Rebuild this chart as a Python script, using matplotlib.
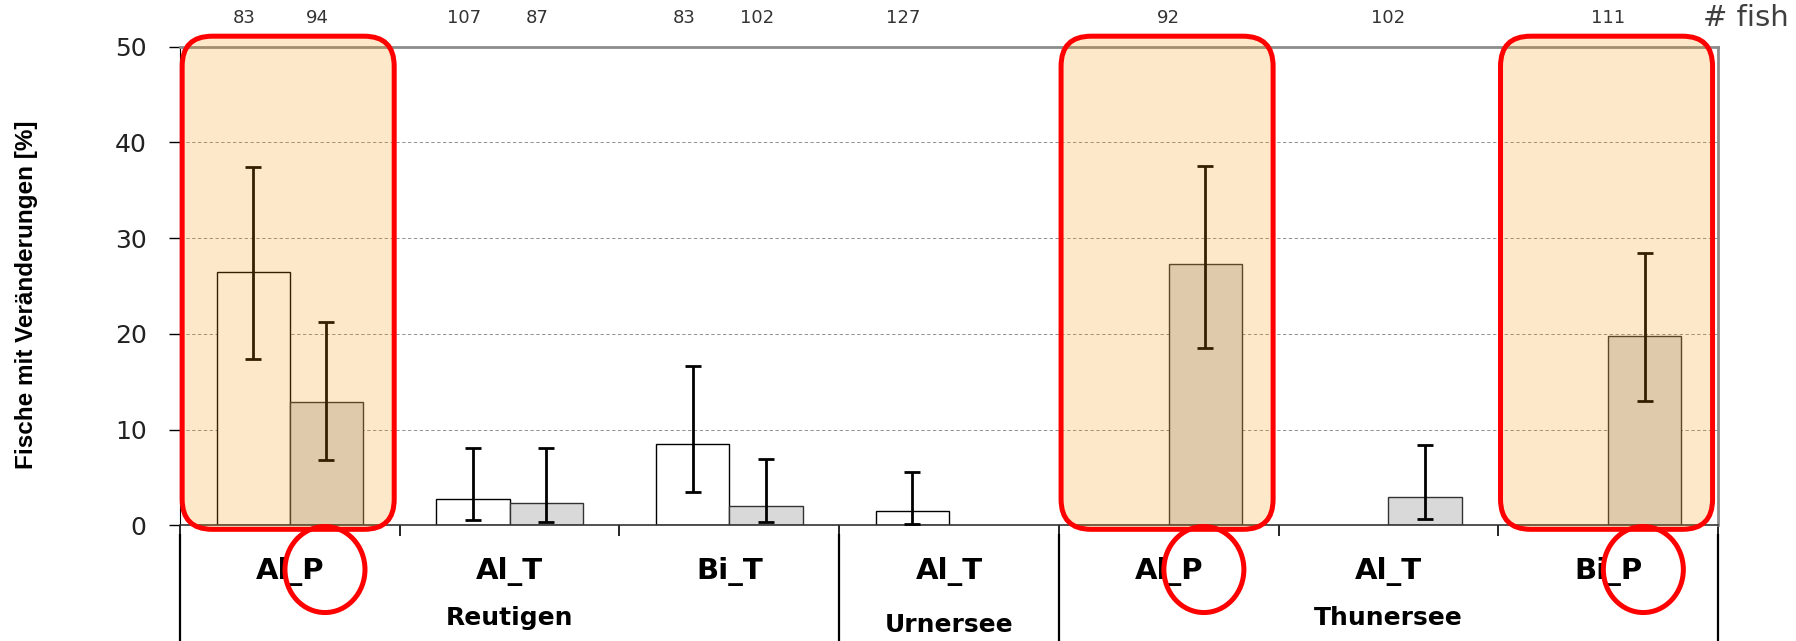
import numpy as np
import matplotlib.pyplot as plt
from matplotlib.patches import FancyBboxPatch, Ellipse
from matplotlib.transforms import IdentityTransform, blended_transform_factory

nan = np.nan

categories = ["Al_P", "Al_T", "Bi_T", "Al_T", "Al_P", "Al_T", "Bi_P"]
groups = ["Reutigen", "Urnersee", "Thunersee"]
group_of = [0, 0, 0, 1, 2, 2, 2]

# white bars (first series) and grey bars (second series), % of fish with changes
white_val = [26.5, 2.8, 8.5, 1.5, nan, nan, nan]
white_lo = [17.4, 0.6, 3.5, 0.2, nan, nan, nan]
white_hi = [37.4, 8.1, 16.7, 5.6, nan, nan, nan]
grey_val = [12.9, 2.3, 2.0, nan, 27.3, 3.0, 19.8]
grey_lo = [6.8, 0.4, 0.4, nan, 18.5, 0.7, 13.0]
grey_hi = [21.3, 8.1, 6.9, nan, 37.5, 8.4, 28.5]

# number of fish
white_n = [83, 107, 83, 127, None, None, None]
grey_n = [94, 87, 102, None, 92, 102, 111]

highlight = [0, 4, 6]

fig = plt.figure(figsize=(17.96, 6.41), dpi=100)
ax = fig.add_axes([0.1002, 0.1802, 0.8564, 0.7469])

x = np.arange(len(categories))
w = 1 / 3
wv = np.array(white_val)
gv = np.array(grey_val)

ax.bar(x - w / 2, wv, width=w, color="white", edgecolor="black", linewidth=1.0, zorder=2)
ax.bar(x + w / 2, gv, width=w, color="#d9d9d9", edgecolor="#333333", linewidth=1.0, zorder=2)
ax.errorbar(x - w / 2, wv, yerr=[wv - np.array(white_lo), np.array(white_hi) - wv],
            fmt="none", ecolor="black", elinewidth=2, capsize=6, capthick=2, zorder=3)
ax.errorbar(x + w / 2, gv, yerr=[gv - np.array(grey_lo), np.array(grey_hi) - gv],
            fmt="none", ecolor="black", elinewidth=2, capsize=6, capthick=2, zorder=3)

ax.set_xlim(-0.5, len(categories) - 0.5)
ax.set_ylim(0, 50)
ax.set_yticks(np.arange(0, 51, 10))
ax.yaxis.grid(True, color="#7f7f7f", linewidth=0.6, linestyle=(0, (4, 3)))
ax.set_axisbelow(True)
ax.tick_params(axis="y", length=8, width=1, direction="out", pad=16,
               labelsize=18, labelcolor="#222222")

# category boundaries as ticks, names as minor tick labels
ax.set_xticks(np.arange(-0.5, len(categories), 1))
ax.set_xticklabels([])
ax.set_xticks(x, minor=True)
ax.set_xticklabels(categories, minor=True, fontsize=21, fontweight="bold")
ax.tick_params(axis="x", which="major", length=8, width=1.2, color="black")
ax.tick_params(axis="x", which="minor", length=0, pad=23)

for s in ["top", "right"]:
    ax.spines[s].set_color("#8c8c8c")
    ax.spines[s].set_linewidth(2)
ax.spines["left"].set_color("black")
ax.spines["bottom"].set_color("#333333")
ax.spines["bottom"].set_linewidth(1.2)

bt = blended_transform_factory(ax.transData, ax.transAxes)

# fish counts above the plot
for i in x:
    if np.isnan(white_val[i]):
        ax.text(i, 1.0595, str(grey_n[i]), transform=bt, ha="center", va="center",
                fontsize=13, color="#333333")
        continue
    ax.text(i - w / 2 - 0.04, 1.0595, str(white_n[i]), transform=bt, ha="center",
            va="center", fontsize=13, color="#333333")
    if grey_n[i] is not None:
        ax.text(i + w / 2 - 0.04, 1.0595, str(grey_n[i]), transform=bt, ha="center",
                va="center", fontsize=13, color="#333333")
ax.text(6.43, 1.0595, "# fish", transform=bt, ha="left", va="center",
        fontsize=21, color="#404040")

# group separators and names
bounds = [-0.5]
for g in range(len(groups)):
    idx = [i for i in x if group_of[i] == g]
    bounds.append(max(idx) + 0.5)
    ypos = -0.208 if groups[g] == "Urnersee" else -0.193
    ax.text(np.mean(idx), ypos, groups[g], transform=bt, ha="center", va="center",
            fontsize=18, fontweight="bold")
for b in bounds:
    ax.plot([b, b], [-0.02, -0.25], transform=bt, color="black", lw=1.6, clip_on=False)

fig.text(0.0145, 0.54, "Fische mit Veränderungen [%]", rotation=90, ha="center",
         va="center", fontsize=17.5, fontweight="bold",
         family=["Liberation Sans", "DejaVu Sans"])

# highlight boxes and circles (drawn in pixel space)
for i in highlight:
    x0, y0 = ax.transData.transform((i - 0.49, -0.4))
    x1, y1 = ax.transData.transform((i + 0.475, 51.1))
    box = FancyBboxPatch((x0, y0), x1 - x0, y1 - y0,
                         boxstyle="round,pad=0,rounding_size=30",
                         facecolor=(0.98, 0.59, 0.03, 0.21), edgecolor="#ff0000",
                         linewidth=3.6, transform=IdentityTransform(), zorder=5)
    fig.add_artist(box)
    cx, cy = ax.transData.transform((i + 0.16, -4.6))
    ell = Ellipse((cx, cy), 80, 86, facecolor="none", edgecolor="#ff0000",
                  linewidth=3.6, transform=IdentityTransform(), zorder=5)
    fig.add_artist(ell)

fig.savefig("out.png", dpi=100)
